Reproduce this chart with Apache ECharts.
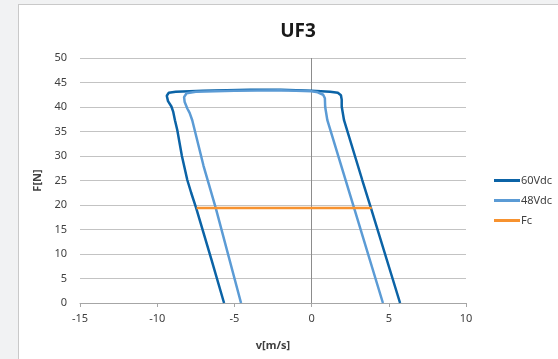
<!DOCTYPE html>
<html>
<head>
<meta charset="utf-8">
<script src="https://cdn.jsdelivr.net/npm/echarts@6/dist/echarts.min.js"></script>
<style>
  html, body { margin: 0; padding: 0; background: #f1f2f3; }
  #box { position: absolute; left: 18px; top: 4px; width: 545px; height: 365px; background: #fff; border: 1px solid #c9c9c9; }
  #chart { position: absolute; left: 0; top: 0; width: 558px; height: 359px; }
</style>
</head>
<body>
<div id="box"></div>
<div id="chart"></div>
<script>
// curve points [v, F]
var v60 = [
  [-5.67, 0], [-6.5, 9], [-7.47, 19.3], [-7.8, 22.5], [-8.05, 25.1], [-8.4, 30],
  [-8.7, 35.3], [-8.85, 37.3], [-8.96, 39.0], [-9.08, 40.1], [-9.3, 41.2], [-9.38, 42.3],
  [-9.25, 42.9], [-8.8, 43.1], [-7, 43.3], [-4, 43.5], [-2, 43.5], [0, 43.3],
  [1.2, 43.1], [1.7, 42.9], [1.9, 42.4], [1.95, 41.5], [1.95, 40.1], [2.1, 37.3],
  [3.28, 25.1], [3.84, 19.4], [5.73, 0]
]
var v48 = [
  [-4.57, 0], [-6.21, 19.4], [-7.0, 28], [-7.73, 37.3], [-7.9, 38.8], [-8.05, 39.7],
  [-8.22, 41.0], [-8.26, 42.0], [-8.1, 42.8], [-7.5, 43.1], [-5, 43.3], [-2, 43.4],
  [0, 43.2], [0.4, 43.0], [0.75, 42.5], [0.86, 41.8], [0.88, 40.0], [1.02, 37.3],
  [2.75, 19.4], [4.62, 0]
]
var fc = [[-7.45, 19.4], [3.9, 19.4]]
var seriesNames = ['60Vdc', '48Vdc', 'Fc']
var seriesColors = ['#0b63a6', '#5b9bd5', '#f7922f']

var font = 'Noto Sans'
var chart = echarts.init(document.getElementById('chart'), null, { renderer: 'canvas' })

var option = {
  animation: false,
  title: {
    text: 'UF3',
    left: 293,
    top: 17,
    textAlign: 'center',
    textStyle: { fontFamily: font, fontSize: 19, fontWeight: 'bold', color: '#1a1a1a' }
  },
  legend: {
    orient: 'vertical',
    left: 489,
    top: 170,
    icon: 'rect',
    itemWidth: 26,
    itemHeight: 3,
    itemGap: 9,
    textStyle: { fontFamily: font, fontSize: 11, color: '#404040', padding: [2, 0, 0, -4] },
    data: seriesNames
  },
  grid: { left: 80, right: 92, top: 58, bottom: 56 },
  xAxis: {
    type: 'value',
    min: -15, max: 10, interval: 5,
    name: 'v[m/s]',
    nameLocation: 'middle',
    nameGap: 37,
    nameTextStyle: { fontFamily: font, fontSize: 11, fontWeight: 'bold', color: '#404040' },
    axisLine: { onZero: false, lineStyle: { color: '#a6a6a6', width: 1 } },
    axisTick: { show: true, length: 4, lineStyle: { color: '#a6a6a6' } },
    axisLabel: { fontFamily: font, fontSize: 11, color: '#404040', margin: 10 },
    splitLine: { show: false }
  },
  yAxis: {
    type: 'value',
    min: 0, max: 50, interval: 5,
    name: 'F[N]',
    nameLocation: 'middle',
    nameGap: 35,
    nameTextStyle: { fontFamily: font, fontSize: 11, fontWeight: 'bold', color: '#404040' },
    axisLine: { show: false },
    axisTick: { show: false },
    axisLabel: { fontFamily: font, fontSize: 11, color: '#404040', margin: 13 },
    splitLine: { lineStyle: { color: '#c3c3c3', width: 1 } }
  },
  series: [
    {
      name: seriesNames[0], type: 'line', data: v60, symbol: 'none',
      color: seriesColors[0], lineStyle: { width: 2.5, color: seriesColors[0] }
    },
    {
      name: seriesNames[1], type: 'line', data: v48, symbol: 'none',
      color: seriesColors[1], lineStyle: { width: 2.5, color: seriesColors[1] }
    },
    {
      name: seriesNames[2], type: 'line', data: fc, symbol: 'none',
      color: seriesColors[2], lineStyle: { width: 2.5, color: seriesColors[2] },
      // vertical line at v = 0 (excel's value axis)
      markLine: {
        silent: true,
        symbol: 'none',
        label: { show: false },
        lineStyle: { color: '#8c8c8c', width: 1, type: 'solid' },
        data: [{ xAxis: 0 }],
        z: 1
      }
    }
  ]
}

chart.setOption(option)
</script>
</body>
</html>
